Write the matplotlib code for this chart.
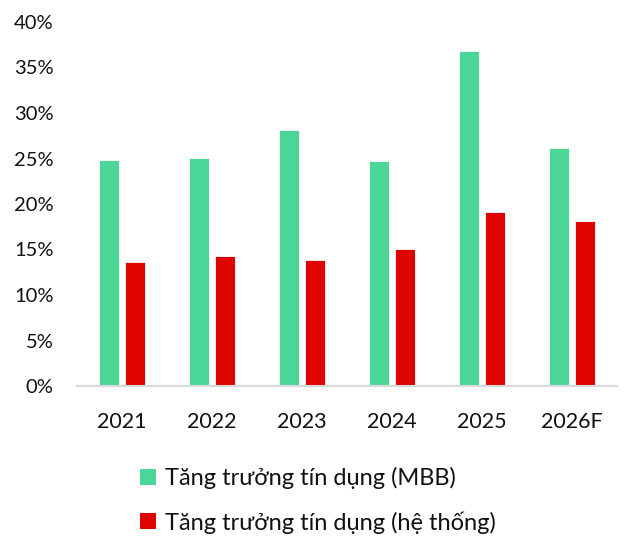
import matplotlib
matplotlib.use("Agg")
import matplotlib.pyplot as plt
import numpy as np
from matplotlib.patches import Patch
from matplotlib.ticker import FuncFormatter, MultipleLocator

years = ["2021", "2022", "2023", "2024", "2025", "2026F"]
mbb = [24.8, 25.1, 28.1, 24.7, 36.8, 26.2]
system = [13.6, 14.3, 13.8, 15.1, 19.1, 18.1]
labels = ["Tăng trưởng tín dụng (MBB)", "Tăng trưởng tín dụng (hệ thống)"]
green = "#4bd698"
red = "#e00400"

plt.rcParams['font.family'] = ['Lato', 'DejaVu Sans']

fig = plt.figure(figsize=(6.28, 5.43), dpi=100)
ax = fig.add_axes([77/628, 1 - 386/543, 540/628, 364/543])

x = np.arange(len(years))
w = 0.23
off = 0.144
ax.bar(x - off, mbb, width=w, color=green, edgecolor="white", linewidth=0.6)
ax.bar(x + off, system, width=w, color=red, edgecolor="white", linewidth=0.6)

ax.set_xlim(-0.5, len(years) - 0.5)
ax.set_ylim(0, 40)
ax.yaxis.set_major_locator(MultipleLocator(5))
ax.yaxis.set_major_formatter(FuncFormatter(lambda v, p: f"{v:.0f}%"))
ax.set_xticks(x)
ax.set_xticklabels(years)
for s in ["top", "right", "left"]:
    ax.spines[s].set_visible(False)
ax.spines["bottom"].set_color("#d9d9d9")
ax.spines["bottom"].set_linewidth(1.5)
ax.tick_params(axis="x", length=0, labelsize=15.5, colors="#111111", pad=19)
ax.tick_params(axis="y", length=0, labelsize=14.5, colors="#111111", pad=17)

handles = [Patch(facecolor=green, edgecolor="none"), Patch(facecolor=red, edgecolor="none")]
fig.legend(handles, labels, loc="upper left", bbox_to_anchor=(119/628, 1 - 446/543),
           frameon=False, fontsize=17, handlelength=0.65, handleheight=0.65,
           handletextpad=0.4, labelspacing=0.92, labelcolor="#111111")

fig.savefig("out.png", dpi=100)
